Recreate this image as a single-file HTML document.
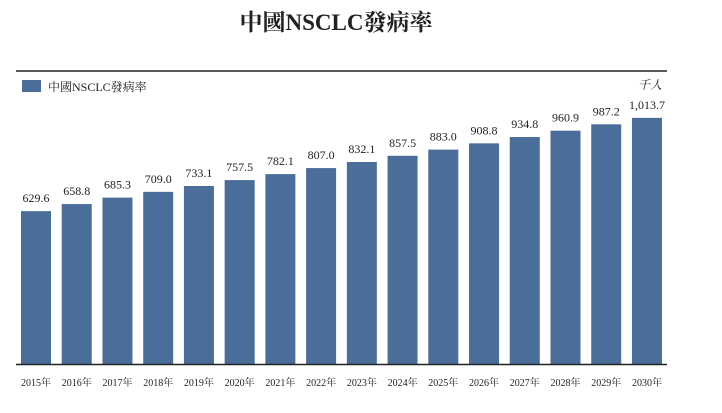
<!DOCTYPE html>
<html><head><meta charset="utf-8"><style>
body{margin:0;background:#fff;width:722px;height:408px;overflow:hidden;font-family:"Liberation Serif","Noto Serif CJK SC","Noto Sans CJK TC",serif}
svg text{font-family:"Liberation Serif","Noto Serif CJK SC","Noto Sans CJK TC",serif}
</style></head><body>
<svg width="722" height="408">
<text x="336" y="30" text-anchor="middle" font-size="23" font-weight="bold" fill="#222">中國NSCLC發病率</text>
<line x1="16" y1="71" x2="667" y2="71" stroke="#222" stroke-width="1.5"/>
<rect x="22" y="80" width="19" height="12" fill="#4a6d9a"/>
<text x="48" y="91" font-size="12" fill="#222">中國NSCLC發病率</text>
<text x="662" y="89" text-anchor="end" font-size="12" font-style="italic" fill="#222">千人</text>
<g id="bars"></g>
<line x1="16" y1="364.5" x2="667" y2="364.5" stroke="#222" stroke-width="1.5"/>
</svg>
<script>
const categories=["2015年","2016年","2017年","2018年","2019年","2020年","2021年","2022年","2023年","2024年","2025年","2026年","2027年","2028年","2029年","2030年"];
const values=[629.6,658.8,685.3,709.0,733.1,757.5,782.1,807.0,832.1,857.5,883.0,908.8,934.8,960.9,987.2,1013.7];
const valueLabels=["629.6","658.8","685.3","709.0","733.1","757.5","782.1","807.0","832.1","857.5","883.0","908.8","934.8","960.9","987.2","1,013.7"];
const base=364, scale=0.2428, x0=21, pitch=40.73, bw=30;
const xs=i=>x0+i*pitch, ys=v=>base-v*scale;
const g=document.getElementById('bars'), NS="http://www.w3.org/2000/svg";
categories.forEach((c,i)=>{
  const r=document.createElementNS(NS,'rect');
  r.setAttribute('x',xs(i));r.setAttribute('y',ys(values[i]));
  r.setAttribute('width',bw);r.setAttribute('height',base-ys(values[i]));
  r.setAttribute('fill','#4a6d9a');
  
  
  g.appendChild(r);
  const t=document.createElementNS(NS,'text');
  t.setAttribute('x',xs(i)+bw/2);t.setAttribute('y',ys(values[i])-9);
  t.setAttribute('text-anchor','middle');t.setAttribute('font-size','12');t.setAttribute('fill','#222');
  t.textContent=valueLabels[i];
  
  
  g.appendChild(t);
  const l=document.createElementNS(NS,'text');
  l.setAttribute('x',xs(i)+bw/2);l.setAttribute('y',386);
  l.setAttribute('text-anchor','middle');l.setAttribute('font-size','10');l.setAttribute('fill','#222');
  l.textContent=c;
  
  
  g.appendChild(l);
});
</script>
</body></html>
